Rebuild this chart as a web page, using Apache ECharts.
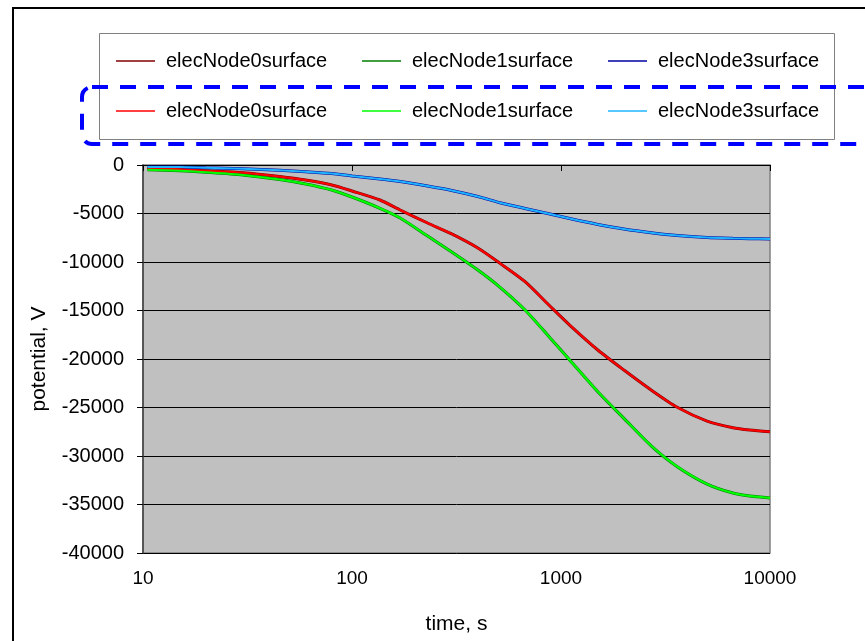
<!DOCTYPE html>
<html>
<head>
<meta charset="utf-8">
<script src="https://cdn.jsdelivr.net/npm/echarts@6/dist/echarts.min.js"></script>
<style>
html,body{margin:0;padding:0;background:#fff;}
#c{width:865px;height:641px;}
</style>
</head>
<body>
<div id="c"></div>
<script>
// time, s
const time = [10.5, 15, 20, 30, 45, 60, 80, 100, 136, 170, 230, 300, 400, 511, 673, 885, 1100, 1500, 2000, 2700, 3600, 5000, 6650, 8000, 10000];
// potential, V
const node0 = [-340, -430, -590, -800, -1190, -1550, -2060, -2680, -3610, -4640, -5980, -7110, -8560, -10140, -12030, -14540, -16500, -19070, -21140, -23200, -24980, -26400, -27080, -27320, -27500];
const node1 = [-480, -590, -750, -1030, -1500, -1960, -2580, -3300, -4460, -5460, -7320, -8970, -10830, -12610, -14950, -17800, -20100, -23370, -26120, -28950, -31100, -32890, -33820, -34130, -34330];
const node3 = [-200, -200, -280, -390, -550, -700, -880, -1130, -1440, -1700, -2170, -2630, -3250, -3890, -4480, -5050, -5520, -6130, -6600, -6980, -7270, -7470, -7560, -7600, -7630];

const names = ['elecNode0surface', 'elecNode1surface', 'elecNode3surface'];
const darkColors = ['#800000', '#008000', '#0000A0'];
const brightColors = ['#FF0000', '#00FF00', '#1EB4FF'];
const values = [node0, node1, node3];

const FONT = '"Liberation Sans", Arial, sans-serif';

const series = [];
names.forEach((n, i) => {
  series.push({
    name: n, type: 'line', showSymbol: false, animation: false, smooth: 0.25,
    data: time.map((t, k) => [t, values[i][k]]),
    lineStyle: { color: darkColors[i], width: 3 }, itemStyle: { color: darkColors[i] }, z: 2
  });
});
names.forEach((n, i) => {
  series.push({
    name: n + ' ', type: 'line', showSymbol: false, animation: false, smooth: 0.25,
    data: time.map((t, k) => [t, values[i][k]]),
    lineStyle: { color: brightColors[i], width: 2 }, itemStyle: { color: brightColors[i] }, z: 3
  });
});

const lefts = [116, 362, 608];
const legends = [];
[0, 1].forEach(row => {
  names.forEach((n, i) => {
    legends.push({
      data: [row === 0 ? n : n + ' '],
      left: lefts[i], top: row === 0 ? 51 : 101,
      padding: 0, icon: 'rect', itemWidth: 39, itemHeight: 1.5,
      selectedMode: false,
      formatter: s => s.trim(),
      textStyle: { fontFamily: FONT, fontSize: 20, color: '#000', padding: [0, 0, 0, 6] }
    });
  });
});

const chart = echarts.init(document.getElementById('c'), null, { renderer: 'canvas' });
chart.setOption({
  animation: false,
  backgroundColor: '#fff',
  graphic: [
    { type: 'rect', z: -10, shape: { x: 13, y: 8, width: 900, height: 700 }, style: { fill: '#fff', stroke: '#000', lineWidth: 2 } },
    { type: 'rect', z: -5, shape: { x: 99.5, y: 33.5, width: 735, height: 106 }, style: { fill: '#fff', stroke: '#808080', lineWidth: 1 } },
    { type: 'rect', z: 100, shape: { x: 82, y: 87, width: 900, height: 57, r: 10 }, style: { fill: 'none', stroke: '#0000FF', lineWidth: 4, lineDash: [16, 12] } }
  ],
  legend: legends,
  grid: { left: 143, top: 165, right: 95, bottom: 88, show: true, backgroundColor: '#C0C0C0', borderColor: '#808080', borderWidth: 1.5, containLabel: false },
  xAxis: {
    type: 'log', logBase: 10, min: 10, max: 10000,
    name: 'time, s', nameLocation: 'middle', nameGap: 61,
    nameTextStyle: { fontFamily: FONT, fontSize: 21, color: '#000' },
    axisLine: { show: true, lineStyle: { color: '#000', width: 1 } },
    axisTick: { show: true, length: 6, lineStyle: { color: '#000' } },
    minorTick: { show: false },
    splitLine: { show: false },
    axisLabel: { fontFamily: FONT, fontSize: 19, color: '#000', margin: 16, formatter: v => String(Math.round(v)) }
  },
  yAxis: {
    type: 'value', min: -40000, max: 0, interval: 5000,
    name: 'potential, V', nameLocation: 'middle', nameGap: 93,
    nameTextStyle: { fontFamily: FONT, fontSize: 21, color: '#000' },
    axisLine: { show: true, lineStyle: { color: '#404040', width: 1.5 } },
    axisTick: { show: true, length: 6, lineStyle: { color: '#000' } },
    splitLine: { show: true, lineStyle: { color: '#000', width: 1 } },
    axisLabel: { fontFamily: FONT, fontSize: 20, color: '#000', margin: 19, formatter: v => String(v) }
  },
  series: series
});
</script>
</body>
</html>
